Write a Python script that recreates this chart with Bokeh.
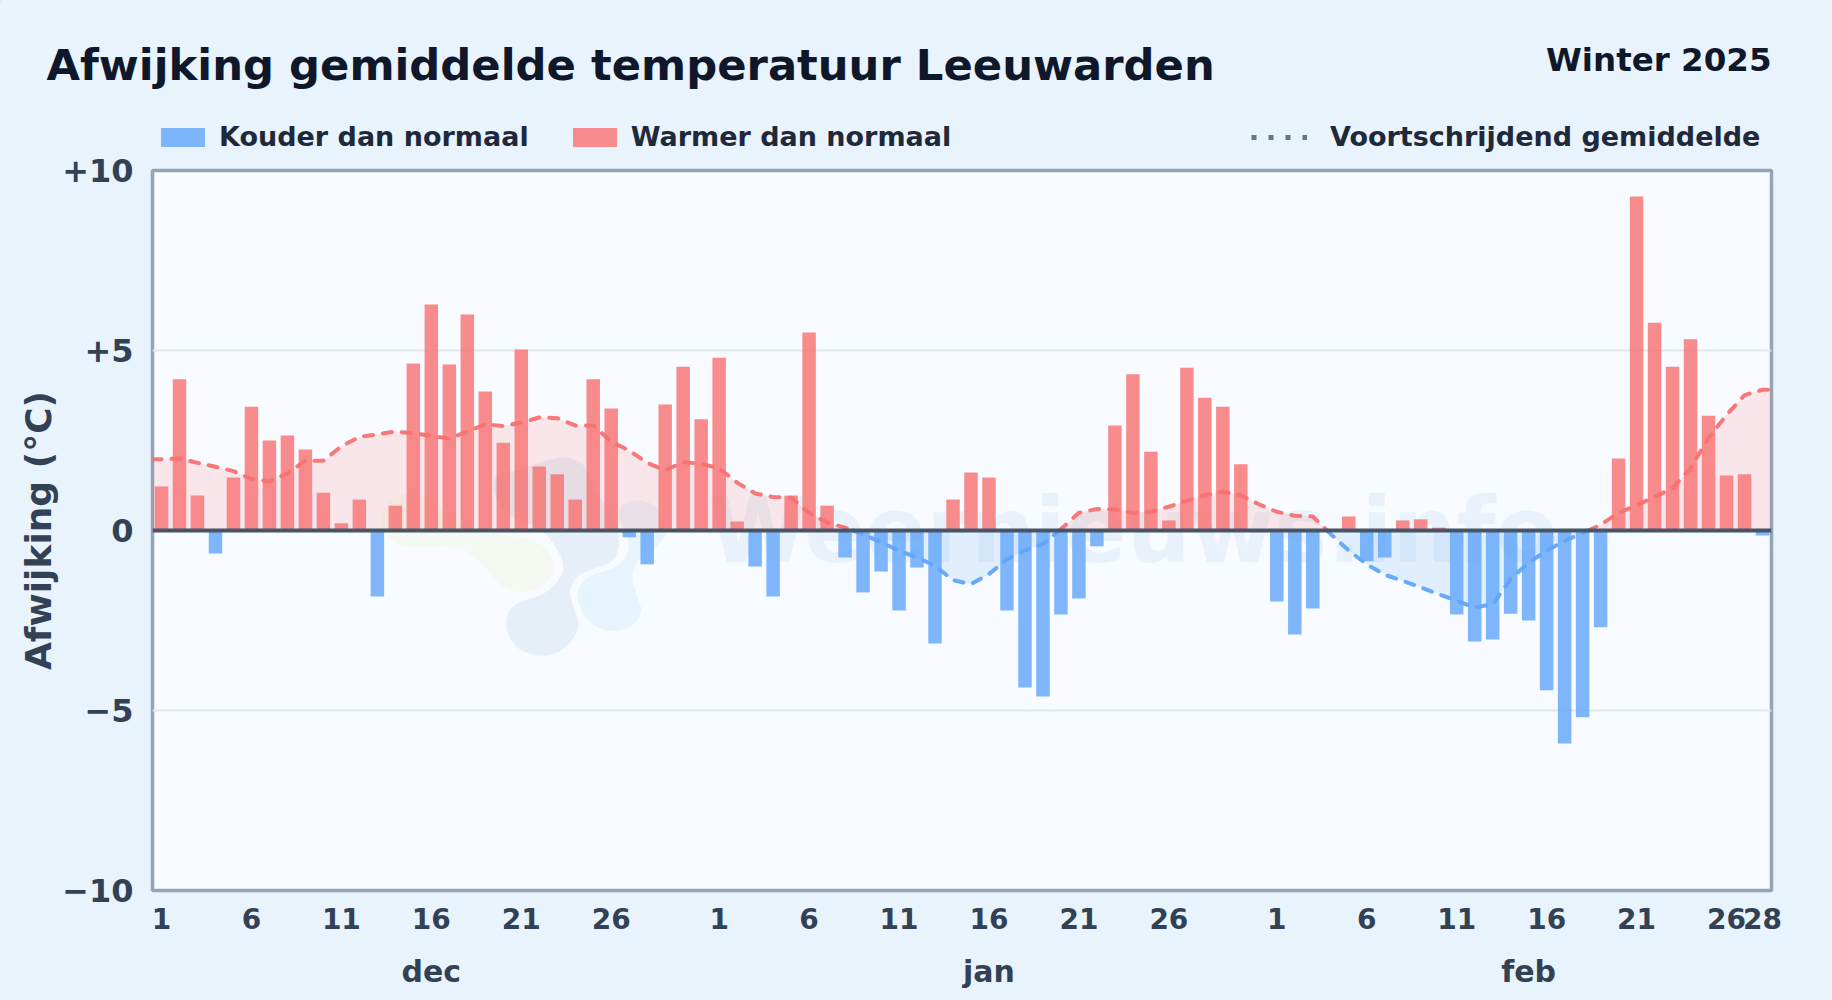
from bokeh.plotting import figure
from bokeh.layouts import column
from bokeh.models import Label, Span, FixedTicker, Legend, LegendItem, AllLabels, LinearAxis
from bokeh.core.properties import value
from bokeh.embed import file_html
from bokeh.resources import INLINE
import numpy as np

title = "Afwijking gemiddelde temperatuur Leeuwarden"
subtitle = "Winter 2025"
months = ["dec", "jan", "feb"]
month_days = [31, 31, 28]
month_label_index = [15, 46, 76]

deviation = [
    1.22, 4.20, 0.97, -0.64, 1.47, 3.44, 2.50, 2.64, 2.25, 1.05, 0.20, 0.86, -1.83, 0.69, 4.64, 6.28,
    4.61, 6.00, 3.86, 2.44, 5.03, 1.78, 1.56, 0.86, 4.20, 3.39, -0.19, -0.94, 3.50, 4.55, 3.09,
    4.80, 0.25, -1.00, -1.83, 0.97, 5.50, 0.69, -0.75, -1.72, -1.14, -2.22, -1.03, -3.14, 0.86, 1.61,
    1.47, -2.22, -4.36, -4.61, -2.33, -1.89, -0.44, 2.92, 4.34, 2.19, 0.28, 4.52, 3.69, 3.44, 1.84, 0.0,
    -1.97, -2.89, -2.17, 0.0, 0.39, -0.85, -0.75, 0.28, 0.31, 0.08, -2.33, -3.08, -3.03, -2.31, -2.50,
    -4.44, -5.92, -5.19, -2.69, 2.00, 9.28, 5.77, 4.55, 5.31, 3.19, 1.53, 1.56, -0.14,
]
rolling = [
    1.98, 2.00, 1.88, 1.77, 1.65, 1.43, 1.37, 1.58, 1.94, 1.94, 2.34, 2.60, 2.67, 2.75, 2.70, 2.63,
    2.55, 2.75, 2.95, 2.90, 3.00, 3.14, 3.12, 2.92, 2.92, 2.47, 2.22, 1.88, 1.67, 1.90, 1.85,
    1.73, 1.33, 1.03, 0.93, 0.91, 0.49, 0.22, 0.08, -0.10, -0.33, -0.56, -0.75, -0.98, -1.38, -1.49,
    -1.21, -0.80, -0.55, -0.38, 0.04, 0.49, 0.60, 0.59, 0.49, 0.52, 0.66, 0.83, 0.98, 1.08, 0.98, 0.73,
    0.52, 0.41, 0.39, -0.10, -0.56, -0.94, -1.23, -1.40, -1.58, -1.77, -1.95, -2.14, -2.05, -1.35, -0.89,
    -0.56, -0.29, -0.07, 0.16, 0.49, 0.70, 0.93, 1.18, 1.73, 2.57, 3.21, 3.76, 3.91,
]
y_ticks = [-10, -5, 0, 5, 10]
y_tick_labels = ["\u221210", "\u22125", "0", "+5", "+10"]
tick_days = [1, 6, 11, 16, 21, 26]

BG = "#e9f3fc"
PLOT_BG = "#f8fbff"
BLUE = "#60a5fa"
RED = "#f87171"
FONT = "DejaVu Sans"
W, H = 1832, 1000
HEAD = 155
LEFT, RIGHT, TOP, BOTTOM = 152, 61, 15, 110   # frame margins inside the main figure

n = len(deviation)
p = figure(width=W, height=H - HEAD, x_range=(0, n), y_range=(-10, 10), output_backend="svg",
           toolbar_location=None, tools="", min_border_left=LEFT, min_border_right=RIGHT,
           min_border_top=TOP, min_border_bottom=BOTTOM)
p.frame_align = False
p.border_fill_color = BG
p.background_fill_color = PLOT_BG
p.outline_line_color = "#94a3b8"
p.outline_line_width = 3.5

# ---- watermark, below everything: outlines given in picture pixels ------------------------------
def px_x(v):
    return (np.asarray(v, float) - 152) / 18.0
def px_y(v):
    return (530 - np.asarray(v, float)) / 36.0
def chaikin(pts, k=3):
    a = np.asarray(pts, float)
    for _ in range(k):
        b = np.roll(a, -1, axis=0)
        a = np.column_stack([0.75 * a + 0.25 * b, 0.25 * a + 0.75 * b]).reshape(-1, 2)
    return a
blobs = [
    ("#f4f9f1", [(60,220),(110,155),(200,170),(250,210),(330,270),(440,285),(540,300),(585,370),(570,420),(500,462),(420,440),(370,370),(320,330),(260,315),(170,322),(100,310),(65,270)]),
    ("#e6eff8", [(400,100),(470,90),(540,65),(620,45),(680,75),(700,150),(760,220),(782,300),(762,365),(700,385),(650,405),(625,450),(640,500),(660,560),(620,625),(545,652),(470,628),(435,570),(442,510),(480,482),(540,468),(590,430),(615,380),(590,320),(540,260),(450,230),(400,170)]),
    ("#e8f4fd", [(780,190),(840,175),(895,200),(930,270),(890,320),(840,345),(812,400),(830,470),(848,510),(820,558),(755,577),(690,552),(650,490),(655,430),(700,400),(770,382),(805,340),(805,290),(775,240)]),
]
for color, outline in blobs:
    pts = chaikin(outline)
    p.patch(px_x(360 + pts[:, 0] / 3), px_y(440 + pts[:, 1] / 3), fill_color=color, line_color=None)
p.text(x=[px_x(708)], y=[px_y(530)], text=["Weernieuws.info"], text_font=value(FONT), text_font_style="bold",
       text_font_size="90px", text_color="#6fa3d8", text_alpha=0.10, text_baseline="alphabetic")

# ---- axes --------------------------------------------------------------------------------------
p.xgrid.visible = False
p.ygrid.ticker = FixedTicker(ticks=y_ticks)
p.ygrid.grid_line_color = "#e1e6ea"
p.ygrid.grid_line_width = 2
p.yaxis.ticker = FixedTicker(ticks=y_ticks)
p.yaxis.major_label_overrides = dict(zip(y_ticks, y_tick_labels))
starts = np.cumsum([0] + month_days[:-1])
x_ticks, x_labels = [], []
for start in starts:
    for d in tick_days:
        x_ticks.append(float(start + d - 0.5)); x_labels.append(str(d))
x_ticks.append(float(starts[-1] + month_days[-1] - 0.5)); x_labels.append(str(month_days[-1]))
p.xaxis.ticker = FixedTicker(ticks=x_ticks)
p.xaxis.major_label_overrides = dict(zip(x_ticks, x_labels))
p.xaxis.major_label_policy = AllLabels()
month_ticks = [float(i) + 0.5 for i in month_label_index]
month_axis = LinearAxis(ticker=FixedTicker(ticks=month_ticks), major_label_overrides=dict(zip(month_ticks, months)))
p.add_layout(month_axis, "below")
for ax in (p.xaxis[0], p.yaxis[0], month_axis):
    ax.axis_line_color = None
    ax.major_tick_line_color = None
    ax.minor_tick_line_color = None
    ax.major_label_text_font = FONT
    ax.major_label_text_font_style = "bold"
    ax.major_label_text_color = "#334155"
p.xaxis[0].major_label_text_font_size = "28px"
month_axis.major_label_text_font_size = "30px"
p.yaxis.major_label_text_font_size = "32px"
p.xaxis[0].major_label_standoff = 11
month_axis.major_label_standoff = 16
p.yaxis.major_label_standoff = 13
p.yaxis.axis_label = "Afwijking (\u00b0C)"
p.yaxis.axis_label_text_font = FONT
p.yaxis.axis_label_text_font_style = "bold"
p.yaxis.axis_label_text_font_size = "36px"
p.yaxis.axis_label_text_color = "#334155"
p.yaxis.axis_label_standoff = 0

# ---- rolling mean: area and dashed line, split at zero --------------------------------------------
xs = np.arange(n) + 0.5
rx = np.concatenate([[0.0], xs, [float(n)]])
ry = np.concatenate([[rolling[0]], rolling, [rolling[-1]]])
cx, cy = [rx[0]], [ry[0]]
for i in range(1, len(rx)):
    if ry[i - 1] * ry[i] < 0:
        t = ry[i - 1] / (ry[i - 1] - ry[i])
        cx.append(rx[i - 1] + t * (rx[i] - rx[i - 1])); cy.append(0.0)
    cx.append(rx[i]); cy.append(ry[i])
cx, cy = np.array(cx), np.array(cy)
p.varea(cx, np.zeros_like(cy), np.clip(cy, 0, None), fill_color=RED, fill_alpha=0.15)
p.varea(cx, np.zeros_like(cy), np.clip(cy, None, 0), fill_color=BLUE, fill_alpha=0.15)
for sign, color in ((1, RED), (-1, BLUE)):
    mask = sign * cy >= 0
    run_x, run_y, runs_x, runs_y = [], [], [], []
    for a, b, m in zip(cx, cy, mask):
        if m:
            run_x.append(a); run_y.append(b)
        elif run_x:
            runs_x.append(run_x); runs_y.append(run_y); run_x, run_y = [], []
    if run_x:
        runs_x.append(run_x); runs_y.append(run_y)
    p.multi_line(runs_x, runs_y, line_color=color, line_width=4, line_alpha=0.95,
                 line_dash="9 10", line_cap="round")

# ---- bars -----------------------------------------------------------------------------------------
dev = np.array(deviation)
cold = dev < 0
warm = dev > 0
p.vbar(x=xs[cold], top=dev[cold], bottom=0, width=0.75, fill_color=BLUE, fill_alpha=0.8, line_color=None)
p.vbar(x=xs[warm], top=dev[warm], bottom=0, width=0.75, fill_color=RED, fill_alpha=0.8, line_color=None)
p.add_layout(Span(location=0, dimension="width", line_color="#475569", line_width=4))

# ---- header figure: title and legends -----------------------------------------------------------
head = figure(width=W, height=HEAD, x_range=(0, W), y_range=(HEAD, 0), output_backend="svg",
              toolbar_location=None, tools="", min_border=0)
head.frame_align = False
head.axis.visible = False
head.grid.visible = False
head.outline_line_color = None
head.border_fill_color = BG
head.background_fill_color = BG
k_cold = head.vbar(x=[-100], top=[1], bottom=0, width=1, fill_color=BLUE, fill_alpha=0.8, line_color=None)
k_warm = head.vbar(x=[-100], top=[1], bottom=0, width=1, fill_color=RED, fill_alpha=0.8, line_color=None)
k_line = head.line([-100, -90], [1, 1], line_color="#64748b", line_width=5, line_dash="5 12")

def make_legend(items, loc, gw, gh, standoff, spacing):
    lg = Legend(items=items, location=loc, orientation="horizontal", background_fill_alpha=0, border_line_color=None,
                padding=0, margin=0, spacing=spacing, label_standoff=standoff, glyph_width=gw, glyph_height=gh,
                label_text_font=FONT, label_text_font_style="bold", label_text_font_size="27px",
                label_text_color="#1e293b", label_height=19)
    head.add_layout(lg, "center")
make_legend([LegendItem(label="Kouder dan normaal", renderers=[k_cold]),
             LegendItem(label="Warmer dan normaal", renderers=[k_warm])], (155, 3), 55, 24, 9, 38)
make_legend([LegendItem(label="Voortschrijdend gemiddelde", renderers=[k_line])], (1251, 3), 56, 24, 23, 0)

def txt(s, x, y, size, color, align="left"):
    head.add_layout(Label(x=x, y=y, text=s, text_font=FONT, text_font_style="bold",
                          text_font_size=size, text_color=color, text_align=align, text_baseline="alphabetic"))
txt(title, 46, 64, "43.3px", "#0f172a")
txt(subtitle, 1771, 59, "32.5px", "#0f172a", "right")

page = column(head, p, spacing=0)
html = file_html(page, INLINE)
html = html.replace("</head>", "<style>html,body{background:%s;}</style></head>" % BG, 1)
open("out.html", "w").write(html)
